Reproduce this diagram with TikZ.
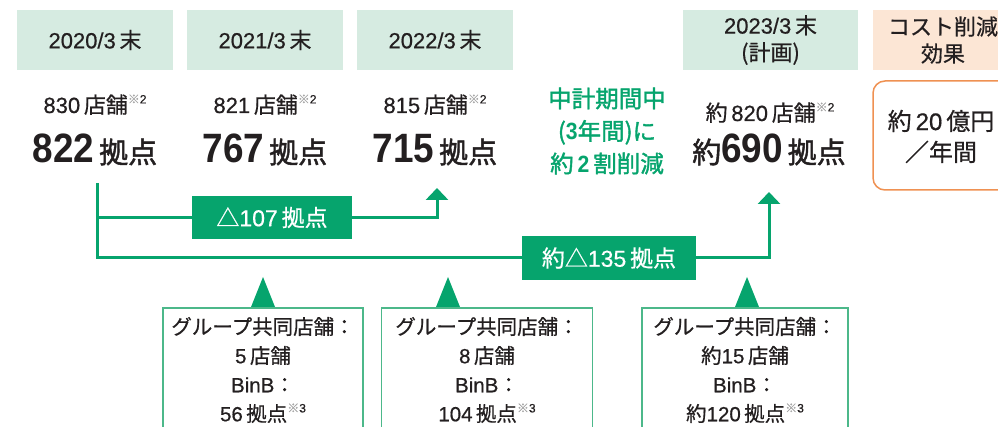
\documentclass[tikz,border=0pt]{standalone}
\usepackage{fontspec}
\setmainfont{Noto Sans CJK JP}[FakeBold=0.6]
\newfontfamily\jb{Noto Sans CJK JP}[FakeBold=1.6]
\newfontfamily\latinf{Liberation Sans}[FakeBold=0.6]
\newfontfamily\latinb{Liberation Sans Bold}[FakeStretch=0.9]
\usetikzlibrary{arrows.meta}
\definecolor{grn}{HTML}{06A46D}
\definecolor{hdr}{HTML}{D6EBE1}
\definecolor{ohdr}{HTML}{FCE6D5}
\definecolor{obrd}{HTML}{EF9152}
\definecolor{txt}{HTML}{231F20}
\definecolor{bxb}{HTML}{4CB88A}
\newcommand{\nm}[1]{{\latinf #1}}
\newcommand{\nb}[1]{{\latinb #1}}
\newcommand{\kome}[1]{\raisebox{0.8ex}{\fontsize{12}{12}\selectfont\textcolor{gray!70}{※}\nm{#1}}}
\tikzset{
  hdrbox/.style={fill=hdr, minimum width=156pt, minimum height=60pt, inner sep=0pt, text=txt, align=center, font=\fontsize{22}{27}\selectfont},
  ohdrbox/.style={hdrbox, fill=ohdr, minimum width=140pt},
  smalltxt/.style={text=txt, inner sep=0pt, anchor=base, font=\fontsize{22}{24}\selectfont},
  bigtxt/.style={text=txt, inner sep=0pt, anchor=base, font=\jb\fontsize{29}{30}\selectfont},
  lblbox/.style={fill=grn, text=white, inner sep=0pt, minimum height=43pt, font=\fontsize{23}{24}\selectfont},
  gline/.style={draw=grn, line width=3pt},
  garrow/.style={gline, -{Triangle[width=22pt 0 0, length=12pt 0 0]}},
  gbox/.style={draw=bxb, line width=1.4pt, fill=white, inner sep=0pt, align=center, text=txt, minimum height=124pt, font=\fontsize{20.5}{29}\selectfont},
  tri/.style={fill=grn},
}
\begin{document}
\begin{tikzpicture}[x=1pt,y=-1pt]
\useasboundingbox (0,0) rectangle (998,427);
\clip (0,0) rectangle (998,427);
% headers
\node[hdrbox] (h1) at (95,40) {\nm{2020/3}\,末};
\node[hdrbox] (h2) at (265,40) {\nm{2021/3}\,末};
\node[hdrbox] (h3) at (435,40) {\nm{2022/3}\,末};
\node[hdrbox, minimum width=175pt] (h4) at (770.5,40) {\nm{2023/3}\,末\\(計画)};
\node[ohdrbox] (h5) at (943,40) {コスト削減\\効果};
% row values
\node[smalltxt] (s1) at (95,113) {\nm{830}\,店舗\kome{2}};
\node[smalltxt] (s2) at (265,113) {\nm{821}\,店舗\kome{2}};
\node[smalltxt] (s3) at (435,113) {\nm{815}\,店舗\kome{2}};
\node[smalltxt] (s4) at (770,121) {約\,\nm{820}\,店舗\kome{2}};
\node[bigtxt] (p1) at (95,163) {{\fontsize{41}{43}\selectfont\nb{822}}\,拠点};
\node[bigtxt] (p2) at (265,163) {{\fontsize{41}{43}\selectfont\nb{767}}\,拠点};
\node[bigtxt] (p3) at (435,163) {{\fontsize{41}{43}\selectfont\nb{715}}\,拠点};
\node[bigtxt] (p4) at (769,163) {約{\fontsize{41}{43}\selectfont\nb{690}}\,拠点};
% green middle text
\node[text=grn, align=center, inner sep=0pt, font=\jb\fontsize{23.5}{32.5}\selectfont] (mid) at (607,131) {中計期間中\\(\nb{3}年間)に\\約\,\nb{2}\,割削減};
% cost box
\draw[draw=obrd, line width=1.5pt, rounded corners=12pt, fill=white] (873,81) rectangle (1015,190);
\node[text=txt, align=center, inner sep=0pt, font=\fontsize{24}{31}\selectfont] (cost) at (941,136.5) {約\,\nm{20}\,億円\\／年間};
% reduction labels and lines
\node[lblbox, minimum width=160pt] (d1) at (272,217.5) {△\nm{107}\,拠点};
\node[lblbox, minimum width=174pt, minimum height=44pt] (d2) at (609,258) {約△\nm{135}\,拠点};
\coordinate (v0) at (97,183);
\coordinate (t1) at (437,188);
\coordinate (t2) at (769,192);
\draw[gline] (v0) |- (d2.west);
\draw[gline] (v0 |- d1.west) -- (d1.west);
\draw[garrow] (d1.east) -| (t1);
\draw[garrow] (d2.east) -| (t2);
% bottom boxes
\node[gbox, minimum width=200pt] (g1) at (263,370) {グループ共同店舗：\\\nm{5}\,店舗\\\nm{BinB}：\\\nm{56}\,拠点\kome{3}};
\node[gbox, minimum width=211pt] (g2) at (487,370) {グループ共同店舗：\\\nm{8}\,店舗\\\nm{BinB}：\\\nm{104}\,拠点\kome{3}};
\node[gbox, minimum width=206pt] (g3) at (745,370) {グループ共同店舗：\\約\nm{15}\,店舗\\\nm{BinB}：\\約\nm{120}\,拠点\kome{3}};
\fill[tri] (251,307) -- (263,277) -- (275,307) -- cycle;
\fill[tri] (436,307) -- (448,277) -- (460,307) -- cycle;
\fill[tri] (735,307) -- (747,277) -- (759,307) -- cycle;
\end{tikzpicture}
\end{document}
